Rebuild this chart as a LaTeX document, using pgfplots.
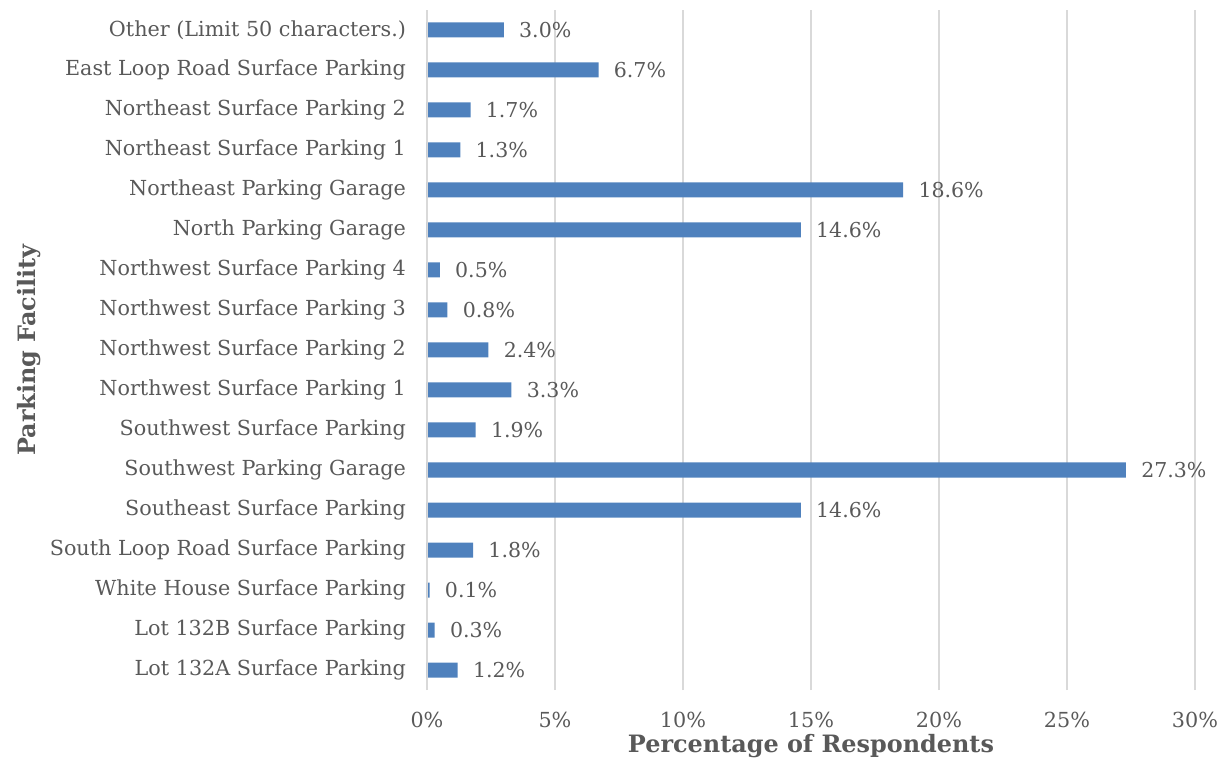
\documentclass[border=0pt]{standalone}
\usepackage{fontspec}
\setmainfont{DejaVu Serif}
\usepackage{pgfplots}
\pgfplotsset{compat=1.18}
\definecolor{barblue}{HTML}{4F81BD}
\definecolor{txtgray}{HTML}{595959}
\definecolor{gridgray}{HTML}{D9D9D9}
\begin{document}
\begin{tikzpicture}
\begin{axis}[
  xbar,
  scale only axis,
  width=384bp, height=340bp,
  xmin=0, xmax=30,
  ymin=-0.5, ymax=16.5,
  bar width=7.5bp,
  axis line style={draw=none},
  xmajorgrids,
  grid style={gridgray, line width=0.8pt},
  major tick length=0pt,
  xtick={0,5,...,30},
  xticklabel={\pgfmathprintnumber{\tick}\%},
  ytick={0,...,16},
  yticklabels={Lot 132A Surface Parking, Lot 132B Surface Parking, White House Surface Parking, South Loop Road Surface Parking, Southeast Surface Parking, Southwest Parking Garage, Southwest Surface Parking, Northwest Surface Parking 1, Northwest Surface Parking 2, Northwest Surface Parking 3, Northwest Surface Parking 4, North Parking Garage, Northeast Parking Garage, Northeast Surface Parking 1, Northeast Surface Parking 2, East Loop Road Surface Parking, Other (Limit 50 characters.)},
  /pgf/number format/assume math mode=true,
  ticklabel style={font=\fontsize{10.4}{12}\selectfont, text=txtgray},
  yticklabel style={xshift=-7bp},
  xticklabel style={yshift=-7.5bp},
  xlabel={Percentage of Respondents},
  ylabel={Parking Facility},
  label style={font=\fontsize{12}{14}\selectfont\bfseries, text=txtgray},
  xlabel style={at={(axis description cs:0.5,0)}, anchor=center, yshift=-28bp},
  ylabel style={at={(axis description cs:0,0.5)}, anchor=center, yshift=199bp},
  nodes near coords={\pgfmathprintnumber[fixed,fixed zerofill,precision=1]{\pgfplotspointmeta}\%},
  point meta=x,
  nodes near coords style={font=\fontsize{10.3}{12}\selectfont, text=txtgray, anchor=west, inner sep=0pt, xshift=7.5bp},
]
\addplot[fill=barblue, draw=none] coordinates {
(1.2,0) (0.3,1) (0.1,2) (1.8,3) (14.6,4) (27.3,5) (1.9,6) (3.3,7) (2.4,8) (0.8,9) (0.5,10) (14.6,11) (18.6,12) (1.3,13) (1.7,14) (6.7,15) (3.0,16)
};
\draw[gridgray, line width=0.8pt] (axis cs:0,-0.5) -- (axis cs:0,16.5);
\end{axis}
\pgfresetboundingbox
\path (current axis.south west) ++(-213.5bp,-34.5bp) rectangle ++(612.5bp,379.5bp);
\end{tikzpicture}
\end{document}
